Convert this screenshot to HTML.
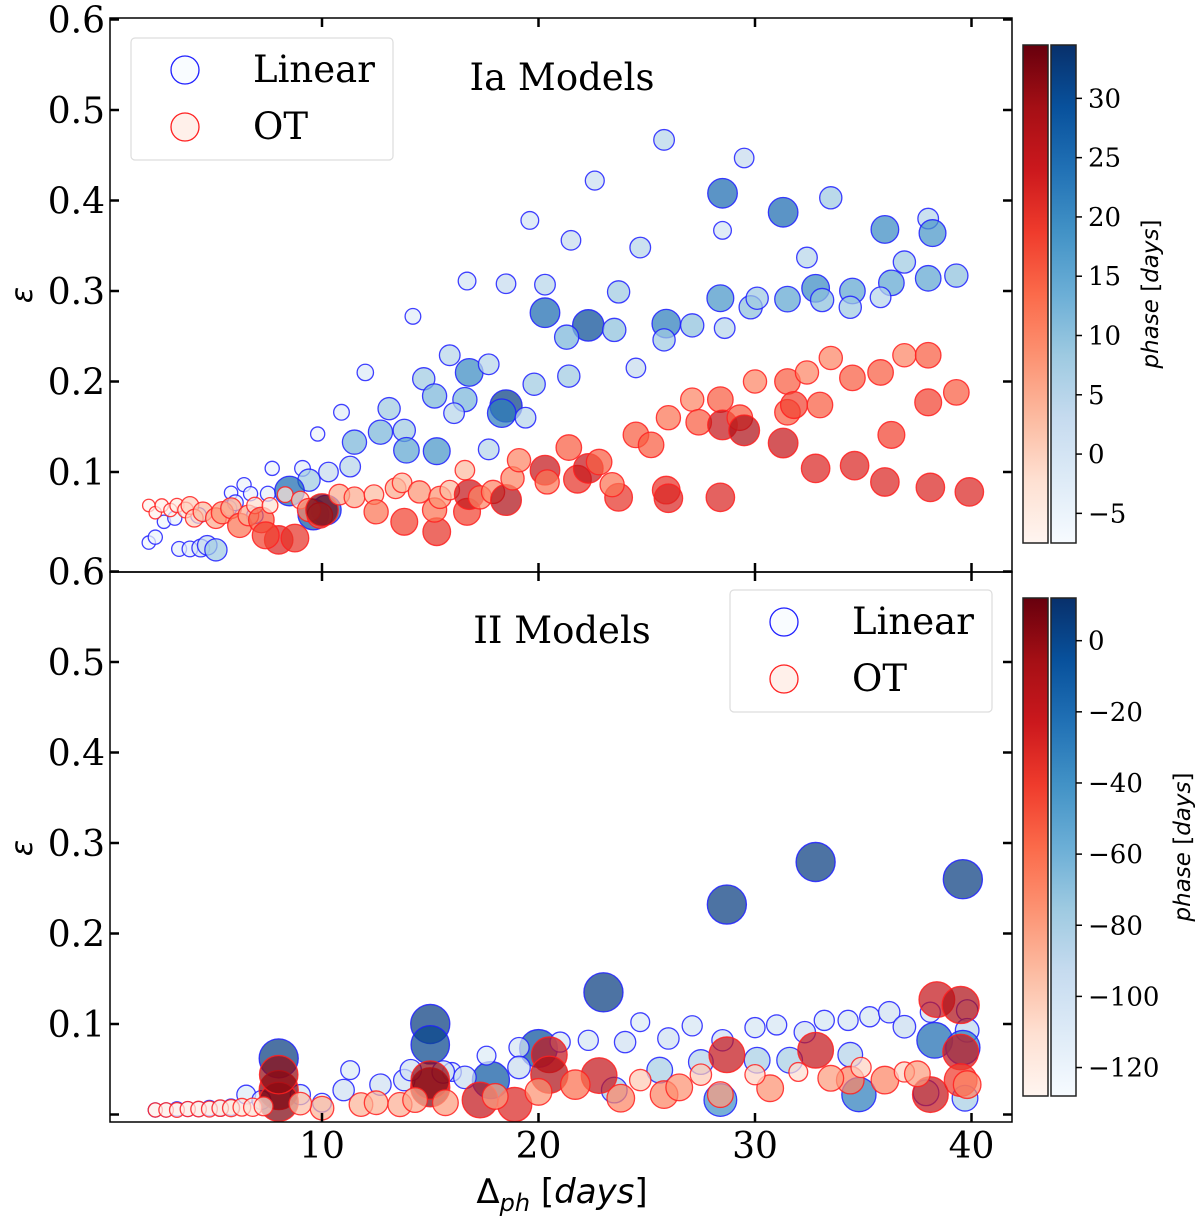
<!DOCTYPE html>
<html><head><meta charset="utf-8"><style>
body{margin:0;background:#fff;}
svg{display:block;}
.tk{font-family:"DejaVu Serif",serif;font-size:36px;fill:#000;}
.cb{font-family:"DejaVu Serif",serif;font-size:26px;fill:#000;}
</style></head><body>
<svg id="chart" width="1200" height="1221" viewBox="0 0 1200 1221" xmlns="http://www.w3.org/2000/svg">
<defs>
<linearGradient id="gBlue" x1="0" y1="1" x2="0" y2="0">
<stop offset="0" stop-color="#f7fbff"/><stop offset=".125" stop-color="#deebf7"/><stop offset=".25" stop-color="#c6dbef"/><stop offset=".375" stop-color="#9ecae1"/><stop offset=".5" stop-color="#6baed6"/><stop offset=".625" stop-color="#4292c6"/><stop offset=".75" stop-color="#2171b5"/><stop offset=".875" stop-color="#08519c"/><stop offset="1" stop-color="#08306b"/></linearGradient>
<linearGradient id="gRed" x1="0" y1="1" x2="0" y2="0">
<stop offset="0" stop-color="#fff5f0"/><stop offset=".125" stop-color="#fee0d2"/><stop offset=".25" stop-color="#fcbba1"/><stop offset=".375" stop-color="#fc9272"/><stop offset=".5" stop-color="#fb6a4a"/><stop offset=".625" stop-color="#ef3b2c"/><stop offset=".75" stop-color="#cb181d"/><stop offset=".875" stop-color="#a50f15"/><stop offset="1" stop-color="#67000d"/></linearGradient>
</defs>
<g id="marks"></g>
<g id="axes"></g>
</svg>
<script>
// ---- data: top panel (Ia models) ----
const topLinX=[25.8,29.5,22.6,33.5,28.5,31.3,19.6,28.5,21.5,38,38.2,36,24.7,32.4,36.9,16.7,18.5,20.3,23.7,28.4,36.3,38,39.3,34.5,32.8,31.5,29.8,30.1,33.1,34.4,35.8,20.3,14.2,25.9,22.3,27.1,23.5,28.6,21.3,25.8,15.9,16.8,14.7,17.7,19.8,24.5,21.4,12,15.2,16.6,18.5,18.3,16.1,13.1,10.9,19.4,9.8,12.7,13.8,11.5,13.9,15.3,17.7,9.1,11.3,7.7,10.3,9.4,6.4,5.8,6.7,7.5,8.5,9.6,10.2,2,2.3,3.4,3.9,4.4,4.7,5.1,2.7,3.2,4.3,5.7,6,6.9];
const topLinY=[0.467,0.447,0.422,0.403,0.408,0.387,0.378,0.367,0.356,0.38,0.364,0.368,0.348,0.337,0.332,0.311,0.308,0.307,0.299,0.292,0.309,0.314,0.317,0.30,0.303,0.291,0.282,0.292,0.29,0.282,0.293,0.276,0.272,0.264,0.262,0.262,0.257,0.259,0.249,0.246,0.229,0.21,0.203,0.219,0.197,0.215,0.206,0.21,0.184,0.18,0.173,0.165,0.165,0.17,0.166,0.16,0.142,0.144,0.146,0.133,0.124,0.123,0.125,0.104,0.106,0.104,0.1,0.091,0.086,0.077,0.076,0.076,0.079,0.053,0.058,0.022,0.028,0.015,0.015,0.016,0.019,0.014,0.045,0.049,0.052,0.06,0.066,0.052];
const topLinP=[5,3,2,8,25,25,0,0,3,5,18,20,5,5,8,0,3,5,8,18,15,15,10,15,20,15,10,8,10,8,5,25,-3,22,30,10,10,5,12,8,5,20,8,5,8,3,8,-2,12,12,32,22,5,8,-3,5,-5,12,8,12,15,18,5,-3,5,-5,3,8,-5,-6,-5,-4,25,28,25,-6,-5,-4,-3,0,3,8,-6,-5,-3,-3,-3,-2];
const topOtX=[2,2.3,2.6,3,3.3,3.7,3.9,4.1,4.5,5.1,5.4,5.8,6.2,6.6,6.9,7.2,7.6,8,7.4,8.75,8.3,9,9.4,9.9,10,10.8,11.5,12.4,12.5,13.4,13.7,13.8,14.5,15.3,15.2,15.45,15.9,16.6,16.7,16.8,17.3,17.9,18.5,18.8,19.1,20.3,20.4,21.4,21.8,22.3,22.8,23.7,23.4,24.5,25.2,26,25.9,26,27.1,27.4,28.4,28.5,28.4,29.3,29.5,30,31.5,31.5,31.3,31.8,32.4,33.5,33,32.8,34.5,34.6,35.8,36.3,36,36.9,38,38,38.1,39.3,39.9];
const topOtY=[0.063,0.055,0.063,0.058,0.063,0.058,0.063,0.049,0.056,0.049,0.055,0.06,0.041,0.052,0.063,0.047,0.063,0.025,0.03,0.027,0.075,0.069,0.058,0.052,0.058,0.075,0.072,0.075,0.056,0.082,0.088,0.045,0.078,0.034,0.058,0.072,0.08,0.102,0.056,0.075,0.072,0.078,0.069,0.093,0.113,0.102,0.089,0.127,0.092,0.104,0.111,0.072,0.086,0.141,0.13,0.16,0.08,0.071,0.18,0.155,0.18,0.152,0.072,0.16,0.146,0.2,0.2,0.166,0.132,0.174,0.21,0.226,0.174,0.104,0.204,0.107,0.21,0.141,0.089,0.229,0.229,0.177,0.083,0.188,0.078];
const topOtP=[-7,-7,-6,-6,-5,-3,0,0,3,5,8,5,12,5,-2,15,-3,22,18,20,-3,0,10,15,33,5,5,3,12,5,3,18,8,20,12,8,3,3,18,25,10,10,28,10,10,25,12,15,20,25,15,20,12,15,15,12,20,22,10,15,15,25,22,15,28,10,15,15,25,18,10,10,15,22,15,22,15,18,22,10,15,18,22,15,22];
// ---- data: bottom panel (II models) ----
const botLinX=[8,15,15,23,28.7,32.8,39.6,20,17.8,17.6,16,19.1,21,22.3,24,24.7,26,27.1,28.5,30,31,32.3,33.2,34.3,35.3,36.2,36.9,38.1,39.8,39.8,38.3,39.6,34.4,31.6,30.1,27.5,25.6,6.5,7.2,9,10,11,12.7,13.8,11.3,14.1,15.6,16.6,19.1,23.5,34.8,28.4,37.9,39.7,2.3,2.8,3.3,3.8,4.3,4.8,5.3,5.8];
const botLinY=[0.062,0.1,0.077,0.135,0.232,0.279,0.26,0.073,0.038,0.065,0.047,0.074,0.08,0.082,0.08,0.102,0.084,0.098,0.082,0.096,0.099,0.091,0.104,0.104,0.108,0.113,0.097,0.113,0.115,0.093,0.082,0.074,0.066,0.06,0.06,0.058,0.049,0.022,0.016,0.022,0.013,0.027,0.033,0.038,0.049,0.049,0.047,0.041,0.052,0.027,0.022,0.016,0.024,0.018,0.005,0.005,0.006,0.006,0.006,0.007,0.007,0.008];
const botLinP=[5,5,0,5,5,5,5,-5,-10,-110,-110,-105,-105,-105,-100,-110,-100,-105,-100,-105,-105,-100,-105,-105,-105,-100,-95,-105,-100,-90,-20,-30,-85,-80,-80,-85,-80,-110,-110,-105,-110,-100,-100,-100,-110,-100,-95,-95,-95,-80,-30,-40,-80,-80,-125,-125,-124,-123,-122,-121,-120,-118];
const botOtX=[8,8,8,15,15,20.5,20.5,22.8,28.7,32.8,38.4,39.5,39.5,39.5,38.1,17.3,18.9,21.7,23.8,25.8,28.4,30.7,34.4,36,39.8,24.7,27.5,30,32,34.9,36.9,10,11.8,13.6,15.7,2.3,2.8,3.3,3.8,4.3,4.8,5.3,5.8,6.3,6.8,7.3,9,12.5,14.3,18,20,26.5,33.5,37.5];
const botOtY=[0.027,0.014,0.044,0.03,0.038,0.066,0.044,0.043,0.066,0.071,0.127,0.121,0.069,0.038,0.022,0.016,0.011,0.033,0.018,0.022,0.022,0.029,0.038,0.038,0.033,0.038,0.044,0.044,0.047,0.052,0.047,0.007,0.011,0.011,0.013,0.005,0.005,0.005,0.006,0.006,0.006,0.007,0.007,0.008,0.008,0.009,0.012,0.013,0.016,0.02,0.025,0.03,0.04,0.045];
const botOtP=[5,5,0,5,0,-20,-10,-20,-20,-20,-20,-10,-20,-40,-20,-20,-30,-60,-70,-70,-80,-75,-70,-70,-70,-100,-100,-105,-110,-105,-105,-90,-90,-88,-80,-125,-124,-123,-122,-121,-120,-118,-116,-114,-112,-110,-95,-90,-85,-80,-75,-75,-80,-80];
// colorbar ticks
const topCbTicks=[30,25,20,15,10,5,0,-5];
const botCbTicks=[0,-20,-40,-60,-80,-100,-120];
const yTicksTop=[0.6,0.5,0.4,0.3,0.2,0.1];
const yTicksBot=[0.6,0.5,0.4,0.3,0.2,0.1,0];
const xTicks=[10,20,30,40];

const NS="http://www.w3.org/2000/svg";
const marks=document.getElementById('marks'), axes=document.getElementById('axes');
function el(tag,attrs,parent){const e=document.createElementNS(NS,tag);for(const k in attrs)e.setAttribute(k,attrs[k]);(parent||axes).appendChild(e);return e;}
const X0=110,X1=1012;
const xS=d=>105.5+d*21.65;
const yTop=v=>562.5-v*905;
const yBot=v=>1114.5-v*905;
const BLUES=["#f7fbff","#deebf7","#c6dbef","#9ecae1","#6baed6","#4292c6","#2171b5","#08519c","#08306b"];
const REDS=["#fff5f0","#fee0d2","#fcbba1","#fc9272","#fb6a4a","#ef3b2c","#cb181d","#a50f15","#67000d"];
function cmap(arr,t){t=Math.max(0,Math.min(1,t));const f=t*8,i=Math.min(7,Math.floor(f)),r=f-i;
 const a=arr[i],b=arr[i+1];const h=s=>[1,3,5].map(k=>parseInt(s.substr(k,2),16));
 const A=h(a),B=h(b);return "rgb("+A.map((v,k)=>Math.round(v+(B[k]-v)*r)).join(",")+")";}
function scatter(xs,ys,ps,yS,pmin,pmax,rmin,rmax,cm,edge,name){
 xs.forEach((x,i)=>{const t=Math.max(0,Math.min(1,(ps[i]-pmin)/(pmax-pmin)));
  const r=Math.sqrt(rmin*rmin+(rmax*rmax-rmin*rmin)*t);
  const c=el('circle',{cx:xS(x),cy:yS(ys[i]),r:r,fill:cmap(cm,t),'fill-opacity':0.72,stroke:edge,'stroke-width':1.3,'stroke-opacity':0.85},marks);
  
  
 });}
scatter(topLinX,topLinY,topLinP,yTop,-7.5,34.5,6,16.5,BLUES,"#1f1fff","ia-linear-point");
scatter(topOtX,topOtY,topOtP,yTop,-7.5,34.5,6,16.5,REDS,"#ff2020","ia-ot-point");
scatter(botLinX,botLinY,botLinP,yBot,-128,12,6.5,20,BLUES,"#1f1fff","ii-linear-point");
scatter(botOtX,botOtY,botOtP,yBot,-128,12,6.5,20,REDS,"#ff2020","ii-ot-point");

// frames
const f1=el('rect',{x:X0,y:18,width:X1-X0,height:554,fill:'none',stroke:'#000','stroke-width':1.5});

const f2=el('rect',{x:X0,y:572,width:X1-X0,height:550,fill:'none',stroke:'#000','stroke-width':1.5});

function yAxis(ticks,yS,name){ticks.forEach(v=>{const y=yS(v);
 el('line',{x1:X0,x2:X0+9,y1:y,y2:y,stroke:'#000','stroke-width':2.5});
 el('line',{x1:X1-9,x2:X1,y1:y,y2:y,stroke:'#000','stroke-width':2.5});
 if(v>0){const t=el('text',{x:X0-5,y:y+13,'text-anchor':'end',class:'tk'});t.textContent=v.toFixed(1);
 }});}
yAxis(yTicksTop,yTop,'ia-y-tick-label');
yAxis(yTicksBot,yBot,'ii-y-tick-label');
xTicks.forEach(v=>{const x=xS(v);
 [[572-9,572+9],[18,27],[1113,1122]].forEach(p=>el('line',{x1:x,x2:x,y1:p[0],y2:p[1],stroke:'#000','stroke-width':2.5}));
 const t=el('text',{x:x,y:1158,'text-anchor':'middle',class:'tk'});t.textContent=v;
 });
// axis labels
function txt(x,y,s,attrs,name){const t=el('text',Object.assign({x:x,y:y},attrs));t.innerHTML=s;return t;}
txt(0,0,'ε',{transform:'translate(32,295) rotate(-90)','text-anchor':'middle','font-family':'DejaVu Sans,sans-serif','font-size':30,'font-style':'italic'},'ia-y-axis-title');
txt(0,0,'ε',{transform:'translate(32,848) rotate(-90)','text-anchor':'middle','font-family':'DejaVu Sans,sans-serif','font-size':30,'font-style':'italic'},'ii-y-axis-title');
txt(562,1203,'Δ<tspan font-style="italic" font-size="24" dy="8">ph</tspan><tspan dy="-8"> [</tspan><tspan font-style="italic">days</tspan>]',{'text-anchor':'middle','font-family':'DejaVu Sans,sans-serif','font-size':34},'x-axis-title');
txt(562,90,'Ia Models',{'text-anchor':'middle','font-family':'DejaVu Serif,serif','font-size':37},'ia-title');
txt(562,643,'II Models',{'text-anchor':'middle','font-family':'DejaVu Serif,serif','font-size':37},'ii-title');
// legends
function legend(x,y,name){const g=el('g',{});
 el('rect',{x:x,y:y,width:262,height:122,rx:4,fill:'#fff','fill-opacity':0.85,stroke:'#ddd','stroke-width':1.2},g);
 el('circle',{cx:x+54,cy:y+32,r:14,fill:'#f7fbff','fill-opacity':0.7,stroke:'#1f1fff','stroke-width':1.3},g);
 el('circle',{cx:x+54,cy:y+89,r:14,fill:'#fff0ea',stroke:'#ff2020','stroke-width':1.3},g);
 const a=el('text',{x:x+122,y:y+44,'font-family':'DejaVu Serif,serif','font-size':37},g);a.textContent='Linear';
 const b=el('text',{x:x+122,y:y+101,'font-family':'DejaVu Serif,serif','font-size':37},g);b.textContent='OT';}
legend(131,38,'ia-legend');legend(730,590,'ii-legend');
// colorbars
function cbar(y0,y1,pmin,pmax,ticks,lx,name){const g=el('g',{});
 el('rect',{x:1023,y:y0,width:25,height:y1-y0,fill:'url(#gRed)',stroke:'#222','stroke-width':1.5},g);
 el('rect',{x:1051,y:y0,width:25,height:y1-y0,fill:'url(#gBlue)',stroke:'#222','stroke-width':1.5},g);
 ticks.forEach(v=>{const y=y1-(v-pmin)/(pmax-pmin)*(y1-y0);
  el('line',{x1:1076,x2:1082,y1:y,y2:y,stroke:'#000','stroke-width':1.5},g);
  const t=el('text',{x:1088,y:y+9,class:'cb'},g);t.textContent=(v<0?'−'+(-v):v);});
 const mid=(y0+y1)/2;
 const t=el('text',{transform:'translate('+lx+','+mid+') rotate(-90)','text-anchor':'middle','font-family':'DejaVu Sans,sans-serif','font-size':23},g);
 t.innerHTML='<tspan font-style="italic">phase</tspan> [<tspan font-style="italic">days</tspan>]';}
cbar(45,543,-7.5,34.5,topCbTicks,1158,'ia-colorbar');
cbar(598,1096,-128,12,botCbTicks,1190,'ii-colorbar');
</script>
</body></html>
